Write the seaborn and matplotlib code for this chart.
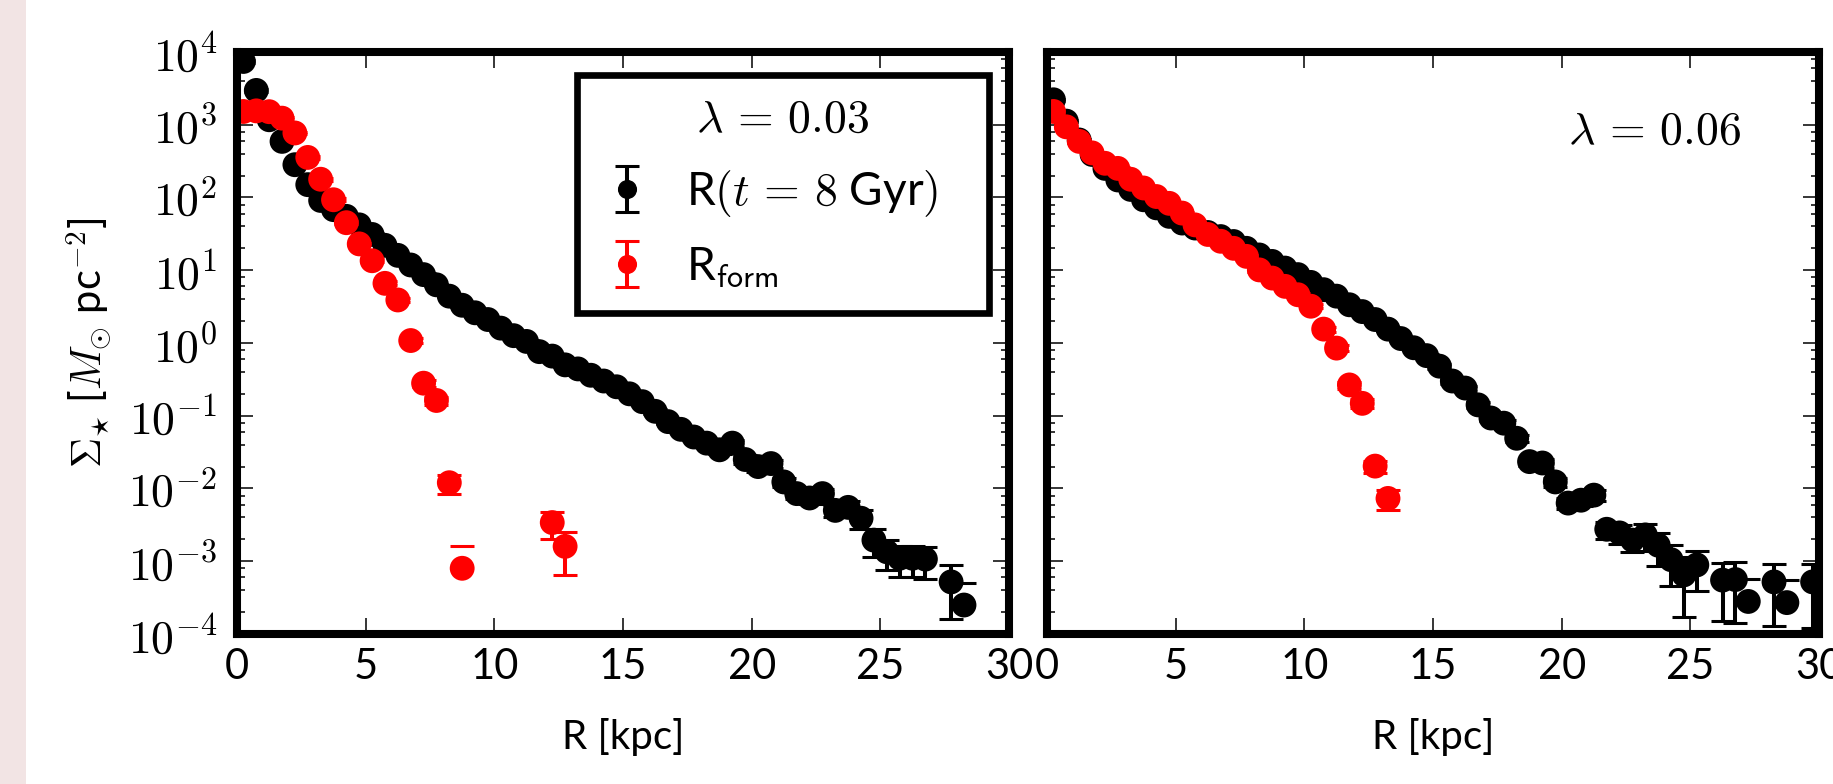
import numpy as np
import pandas as pd
import matplotlib
matplotlib.use("Agg")
import matplotlib.pyplot as plt
import seaborn as sns
from matplotlib.ticker import FixedLocator, LogLocator, FuncFormatter, NullFormatter, NullLocator
from matplotlib.patches import Rectangle

# ---------------- data ----------------
x_ticks = [0, 5, 10, 15, 20, 25, 30]
x_tick_labels = ["0", "5", "10", "15", "20", "25", "30"]

# left panel, lambda = 0.03
left_R_black = [0.25, 0.75, 1.25, 1.75, 2.25, 2.75, 3.25, 3.75, 4.25, 4.75,
                5.25, 5.75, 6.25, 6.75, 7.25, 7.75, 8.25, 8.75, 9.25, 9.75,
                10.25, 10.75, 11.25, 11.75, 12.25, 12.75, 13.25, 13.75, 14.25, 14.75,
                15.25, 15.75, 16.25, 16.75, 17.25, 17.75, 18.25, 18.75, 19.25, 19.75,
                20.25, 20.75, 21.25, 21.75, 22.25, 22.75, 23.25, 23.75, 24.25, 24.75,
                25.25, 25.75, 26.25, 26.75, 27.75, 28.25]
left_S_black = [7400, 2960, 1170, 590, 282, 150, 91, 68, 55, 42,
                31, 22, 16, 11.8, 8.7, 6.3, 4.4, 3.3, 2.6, 2.1,
                1.6, 1.26, 1.05, 0.76, 0.66, 0.50, 0.44, 0.36, 0.30, 0.25,
                0.20, 0.156, 0.115, 0.083, 0.065, 0.051, 0.042, 0.034, 0.042, 0.025,
                0.020, 0.022, 0.0123, 0.0085, 0.0074, 0.0085, 0.0050, 0.0055, 0.0039, 0.00195,
                0.00135, 0.0011, 0.0011, 0.00107, 0.00052, 0.00025]
left_E_black = [300, 120, 50, 25, 12, 6, 4, 3, 2, 1.5,
                1.2, 0.9, 0.6, 0.5, 0.35, 0.25, 0.18, 0.14, 0.11, 0.09,
                0.07, 0.06, 0.05, 0.04, 0.035, 0.03, 0.025, 0.02, 0.018, 0.015,
                0.013, 0.011, 0.009, 0.007, 0.006, 0.005, 0.0045, 0.004, 0.0045, 0.0035,
                0.003, 0.003, 0.0018, 0.0014, 0.0013, 0.0014, 0.001, 0.0012, 0.0011, 0.0008,
                0.0006, 0.0005, 0.0005, 0.0005, 0.00036, 0.00026]

left_R_red = [0.25, 0.75, 1.25, 1.75, 2.25, 2.75, 3.25, 3.75, 4.25, 4.75,
              5.25, 5.75, 6.25, 6.75, 7.25, 7.75, 8.25, 8.75, 12.25, 12.75]
left_S_red = [1520, 1550, 1510, 1230, 770, 355, 178, 93, 45, 23,
              13.5, 6.6, 3.9, 1.08, 0.28, 0.162, 0.012, 0.0008, 0.0034, 0.0016]
left_E_red = [60, 60, 60, 50, 30, 15, 8, 4, 2, 1,
              0.7, 0.4, 0.25, 0.09, 0.03, 0.02, 0.0035, 0.00082, 0.00135, 0.00095]

# right panel, lambda = 0.06
right_R_black = [0.25, 0.75, 1.25, 1.75, 2.25, 2.75, 3.25, 3.75, 4.25, 4.75,
                 5.25, 5.75, 6.25, 6.75, 7.25, 7.75, 8.25, 8.75, 9.25, 9.75,
                 10.25, 10.75, 11.25, 11.75, 12.25, 12.75, 13.25, 13.75, 14.25, 14.75,
                 15.25, 15.75, 16.25, 16.75, 17.25, 17.75, 18.25, 18.75, 19.25, 19.75,
                 20.25, 20.75, 21.25, 21.75, 22.25, 22.75, 23.25, 23.75, 24.25, 24.75,
                 25.25, 26.25, 26.75, 27.25, 28.25, 28.75, 29.75]
right_S_black = [2200, 1120, 617, 390, 251, 174, 129, 93, 72, 55,
                 44.5, 38, 33, 29, 24.8, 20, 16.2, 13.2, 10.7, 8.7,
                 6.8, 5.4, 4.4, 3.35, 2.7, 2.1, 1.55, 1.15, 0.86, 0.67,
                 0.48, 0.30, 0.24, 0.141, 0.093, 0.079, 0.049, 0.0234, 0.0224, 0.0123,
                 0.0063, 0.0069, 0.0081, 0.00275, 0.00245, 0.00195, 0.0023, 0.00166, 0.00105, 0.00065,
                 0.00089, 0.00055, 0.00056, 0.00028, 0.00052, 0.00027, 0.00052]
right_E_black = [90, 45, 25, 16, 10, 7, 5, 4, 3, 2.2,
                 1.8, 1.5, 1.3, 1.2, 1.0, 0.8, 0.65, 0.55, 0.45, 0.37,
                 0.3, 0.24, 0.2, 0.16, 0.13, 0.11, 0.09, 0.07, 0.055, 0.045,
                 0.035, 0.025, 0.02, 0.013, 0.009, 0.008, 0.0055, 0.003, 0.003, 0.0018,
                 0.0011, 0.0012, 0.0013, 0.0007, 0.0007, 0.0006, 0.0009, 0.0008, 0.0006, 0.00048,
                 0.0005, 0.0004, 0.00042, 0.00029, 0.00039, 0.00028, 0.0004]

right_R_red = [0.25, 0.75, 1.25, 1.75, 2.25, 2.75, 3.25, 3.75, 4.25, 4.75,
               5.25, 5.75, 6.25, 6.75, 7.25, 7.75, 8.25, 8.75, 9.25, 9.75,
               10.25, 10.75, 11.25, 11.75, 12.25, 12.75, 13.25]
right_S_red = [1520, 935, 590, 410, 295, 251, 178, 135, 103, 83,
               61, 42, 31, 25, 20, 15.5, 10.1, 7.8, 6.0, 4.6,
               3.2, 1.55, 0.85, 0.265, 0.148, 0.0203, 0.0073]
right_E_red = [60, 38, 24, 16, 12, 10, 7, 5.5, 4.2, 3.4,
               2.5, 1.8, 1.3, 1.1, 0.9, 0.7, 0.5, 0.4, 0.32, 0.26,
               0.2, 0.12, 0.08, 0.03, 0.02, 0.0039, 0.0023]

label_black = r"R$(t\,=\,8$ Gyr$)$"
label_red = r"R$_{\mathsf{form}}$"
title_left = r"$\lambda\,=\,0.03$"
title_right = r"$\lambda\,=\,0.06$"
xlabel = "R [kpc]"
ylabel = r"$\Sigma_{\star}$ [$M_{\odot}$ pc$^{-2}$]"

# ---------------- style ----------------
sns.set_theme(style="ticks")
plt.rcParams["font.family"] = ["Lato", "DejaVu Sans"]
plt.rcParams["mathtext.fontset"] = "cm"
plt.rcParams["text.color"] = "black"
plt.rcParams["axes.labelcolor"] = "black"
plt.rcParams["xtick.color"] = "black"
plt.rcParams["ytick.color"] = "black"
plt.rcParams["axes.edgecolor"] = "black"

W, H = 1833, 784
fig = plt.figure(figsize=(18.3305, 7.8405), dpi=100)
fig.patch.set_facecolor("white")
fig.patches.append(Rectangle((0, 0), 26 / W, 1, transform=fig.transFigure,
                             facecolor="#f2e4e4", edgecolor="none", zorder=0))

ax1 = fig.add_axes([237 / W, 150 / H, 772 / W, 582 / H])
ax2 = fig.add_axes([1047 / W, 150 / H, 772 / W, 582 / H], sharey=ax1)

EB = dict(elinewidth=2.9, capsize=8.8, capthick=2.2)


def draw_series(ax, R, S, E, color, z):
    ax.errorbar(R, S, yerr=E, fmt="none", ecolor=color, zorder=z, **EB)
    df = pd.DataFrame({"R": R, "S": S})
    sns.scatterplot(data=df, x="R", y="S", ax=ax, color=color, s=320,
                    linewidth=0, edgecolor="none", zorder=z + 0.5, legend=False)


for ax in (ax1, ax2):
    ax.set_yscale("log", nonpositive="mask")

draw_series(ax1, left_R_black, left_S_black, left_E_black, "black", 2)
draw_series(ax1, left_R_red, left_S_red, left_E_red, "red", 3)
draw_series(ax2, right_R_black, right_S_black, right_E_black, "black", 2)
draw_series(ax2, right_R_red, right_S_red, right_E_red, "red", 3)

# legend proxies (no visible data)
hb = ax1.errorbar([np.nan], [np.nan], yerr=[np.nan], fmt="o", color="black", ms=17, **EB)
hr = ax1.errorbar([np.nan], [np.nan], yerr=[np.nan], fmt="o", color="red", ms=17, **EB)

for ax in (ax1, ax2):
    ax.set_xlim(0, 30)
    ax.set_ylim(1e-4, 1e4)
    ax.xaxis.set_major_locator(FixedLocator(x_ticks))
    ax.set_xticklabels(x_tick_labels)
    ax.xaxis.set_minor_locator(NullLocator())
    ax.yaxis.set_major_locator(LogLocator(base=10, numticks=20))
    ax.yaxis.set_minor_locator(LogLocator(base=10, subs=(2, 4, 6, 8), numticks=20))
    ax.yaxis.set_minor_formatter(NullFormatter())
    ax.tick_params(which="both", direction="in", top=True, right=True,
                   bottom=True, left=True, color="black")
    ax.tick_params(which="major", length=11.5, width=1.1)
    ax.tick_params(which="minor", length=5.8, width=1.1)
    ax.tick_params(axis="x", labelsize=30, pad=10)
    ax.tick_params(axis="y", labelsize=33, pad=14)
    for sp in ax.spines.values():
        sp.set_linewidth(5.8)
        sp.set_color("black")
        sp.set_zorder(5)
    ax.grid(False)
    ax.set_xlabel(xlabel, fontsize=29)
    ax.xaxis.set_label_coords(0.5, -0.145)

ax1.yaxis.set_major_formatter(FuncFormatter(lambda v, p: r"$10^{%d}$" % int(round(np.log10(v)))))
ax2.tick_params(axis="y", labelleft=False)
ax1.set_ylabel(ylabel, fontsize=30)
ax1.yaxis.set_label_coords(-0.161, 0.5)
ax2.set_ylabel("")

leg = ax1.legend([hb, hr], [label_black, label_red], title=title_left,
                 loc="upper left", bbox_to_anchor=(0.4404, 0.4, 0.5337, 0.56),
                 mode="expand", borderaxespad=0,
                 fontsize=33, title_fontsize=33, markerscale=0.75,
                 handlelength=1.2, handletextpad=0.68, labelspacing=0.6,
                 borderpad=0.5, frameon=True, fancybox=False,
                 edgecolor="black", framealpha=1)
leg.get_frame().set_linewidth(4.8)
leg.set_zorder(10)

ax2.text(0.787, 0.864, title_right, transform=ax2.transAxes, ha="center",
         va="center", fontsize=33, color="black")

fig.savefig("out.png", dpi=100, facecolor="white")
